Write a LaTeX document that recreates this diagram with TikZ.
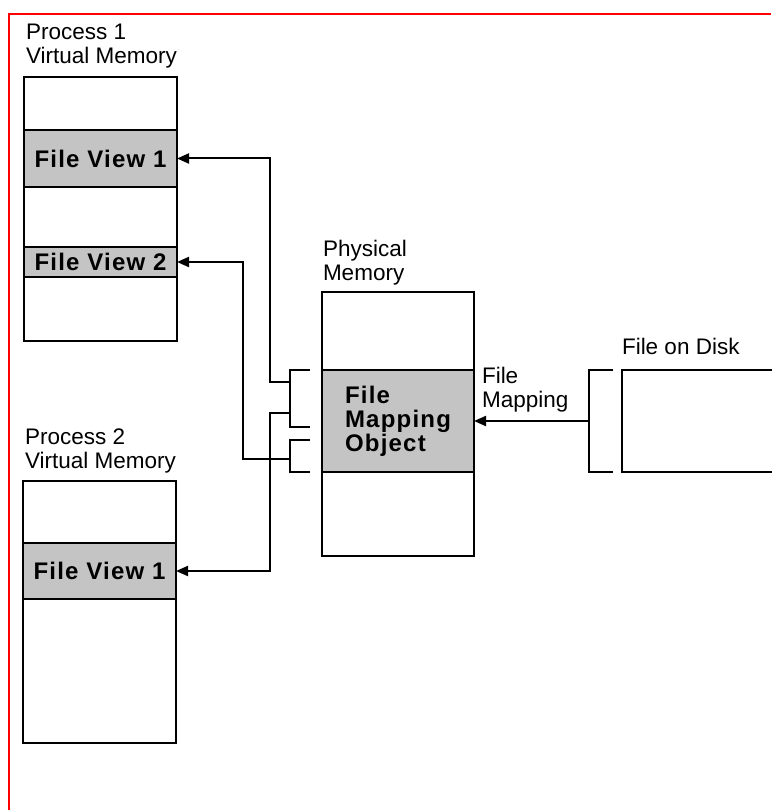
\documentclass[tikz,border=0pt]{standalone}
\usepackage{fontspec}
\setmainfont{Liberation Sans}
\usepackage{tikz}
\usetikzlibrary{arrows.meta,positioning}

\begin{document}
\begin{tikzpicture}[x=1pt, y=-1pt, line width=2pt,
    every node/.style={font=\fontsize{22.5}{24}\selectfont, inner sep=0pt, outer sep=0pt}]

    % Styles for the memory blocks and the mapped regions
    \tikzset{
        memblock/.style={draw=black, fill=white, anchor=north west, minimum width=153pt},
        viewband/.style={draw=black, fill=black!23, anchor=north, minimum width=153pt,
            align=left, font=\fontsize{24}{24}\bfseries\addfontfeatures{LetterSpace=5}\selectfont},
        caption/.style={align=left},
        arrow/.style={->, >={Triangle[length=12pt,width=10pt]}, black},
        frame/.style={draw=red, line width=2pt}
    }

    \useasboundingbox (0,0) rectangle (771,810);
    \draw[frame] (9,810) -- (9,14) -- (771,14);

    % Process 1 virtual memory
    \node[memblock, minimum height=264pt] (vm1) at (24,77) {};
    \node[viewband, minimum height=57pt, below=53pt of vm1.north] (p1view1) {File View 1};
    \node[viewband, minimum height=30pt, below=170pt of vm1.north] (p1view2) {File View 2};
    \node[caption, above right=9pt and 2pt of vm1.north west] (p1label) {Process 1\\Virtual Memory};

    % Process 2 virtual memory
    \node[memblock, minimum height=262pt] (vm2) at (23,481) {};
    \node[viewband, minimum height=56pt, below=62pt of vm2.north] (p2view1) {File View 1};
    \node[caption, above right=8pt and 2pt of vm2.north west] (p2label) {Process 2\\Virtual Memory};

    % Physical memory with the mapping object
    \node[memblock, minimum width=152pt, minimum height=264pt] (phys) at (322,292) {};
    \node[viewband, minimum width=152pt, minimum height=102pt, below=78pt of phys.north] (fmo) {File\\Mapping\\Object};
    \node[caption, above right=7pt and 1pt of phys.north west] (physlabel) {Physical\\Memory};
    \node[caption, above right=3pt and 8pt of fmo.north east, anchor=north west] (maplabel) {File\\Mapping};

    % File on disk
    \node[memblock, minimum width=170pt, minimum height=102pt] (disk) at (622,370) {};
    \node[caption, above right=15pt and 0pt of disk.north west] (disklabel) {File on Disk};

    % Brackets
    \draw ([xshift=-9pt]disk.north west) -- ++(-24,0) |- ([xshift=-9pt]disk.south west);
    \draw ([xshift=-12pt]fmo.north west) -- ++(-20,0) -- ++(0,57) -- ++(20,0);
    \draw ([xshift=-12pt]fmo.south west) -- ++(-20,0) -- ++(0,-32) -- ++(20,0);
    \coordinate (diskbrk) at ([xshift=-33pt]disk.west);
    \coordinate (brkA) at ([xshift=-32pt, yshift=-12pt]fmo.north west);
    \coordinate (brkB) at ([xshift=-32pt, yshift=13pt]fmo.south west);
    \coordinate (brkC) at ([xshift=-32pt, yshift=-43pt]fmo.north west);

    % Connection arrows
    \draw[arrow] (diskbrk) -- (fmo.east);
    \draw[arrow] (brkA) -- ++(-20,0) |- (p1view1.east);
    \draw[arrow] (brkB) -- ++(-47,0) |- (p1view2.east);
    \draw[arrow] (brkC) -- ++(-20,0) |- (p2view1.east);

\end{tikzpicture}
\end{document}
